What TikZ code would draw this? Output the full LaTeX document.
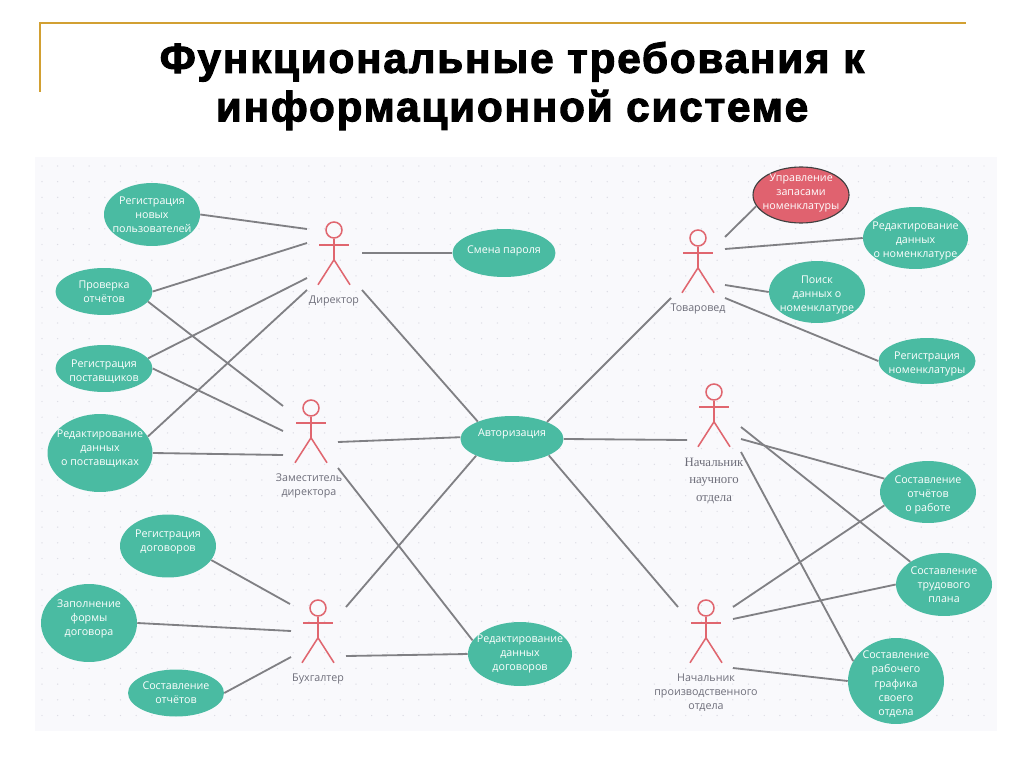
\documentclass[tikz,border=0pt]{standalone}
\usepackage{fontspec}
\setmainfont{Open Sans}
\newfontfamily\titlefont[FakeBold=2.5, LetterSpace=4.3]{Liberation Sans Bold}
\newfontfamily\serifcap{Liberation Serif}
\usetikzlibrary{shapes.geometric}
\definecolor{panelbg}{HTML}{F9F9FC}
\definecolor{griddot}{HTML}{DCDCE4}
\definecolor{casegreen}{HTML}{4ABBA2}
\definecolor{casered}{HTML}{E0626F}
\definecolor{actorred}{HTML}{E0666F}
\definecolor{linkgray}{HTML}{808084}
\definecolor{capgray}{HTML}{6E6E7A}
\definecolor{framegold}{HTML}{D2A032}
\tikzset{
    usecase/.style={ellipse, fill=casegreen, text=white, inner sep=-16pt, align=center,
        font=\fontsize{7.6}{10}\selectfont},
    usered/.style={usecase, fill=casered, draw=black!75, line width=0.8pt},
    link/.style={draw=linkgray, line width=1.3pt},
    actorhead/.style={circle, draw=actorred, line width=1.1pt, minimum size=16*0.711pt, inner sep=0pt},
    actorline/.style={draw=actorred, line width=1.1pt},
    actorcap/.style={text=capgray, align=center, font=\fontsize{7.6}{10}\selectfont},
}
\newcommand{\actorfig}[3]{
    \node[actorhead] (#1) at (#2, #3) {};
    \draw[actorline] (#1.south) -- ++(0, 21) coordinate (#1hip) -- ++(-16, 25);
    \draw[actorline] (#1hip) -- ++(16, 25);
    \draw[actorline] (#2-15, #3+15) -- (#2+15, #3+15);
}
% подвинуть текст в овале вверх или вниз
\newcommand{\liftup}[1]{\rule[-#1pt]{0pt}{#1pt}}
\newcommand{\dropdown}[1]{\rule{0pt}{#1pt}}
\begin{document}
\begin{tikzpicture}[x=0.025cm, y=-0.025cm]
    \useasboundingbox (0, 0) rectangle (1024, 767);

    % заголовок
    \draw[framegold, line width=1.3pt] (40, 92) -- (40, 23) -- (966, 23);
    \node[align=center, font=\titlefont\fontsize{30}{34.5}\selectfont] (title) at (512, 86)
        {Функциональные требования к\\информационной системе};

    % фон
    \fill[panelbg] (35, 157) rectangle (997, 731);
    \foreach \i in {0,...,60}
        \foreach \j in {0,...,35}
            \fill[griddot] ({42+\i*15.7}, {166+\j*15.7}) circle (0.5pt);

    % слева
    \node[usecase, minimum width=96*0.711pt, minimum height=63*0.711pt] (regNew) at (152, 214.5) {Регистрация\\новых\\пользователей};
    \node[usecase, minimum width=97*0.711pt, minimum height=47*0.711pt] (checkRep) at (104, 291.5) {Проверка\\отчётов};
    \node[usecase, minimum width=97*0.711pt, minimum height=47*0.711pt] (regSup) at (104, 368.5) {\dropdown{10}Регистрация\\поставщиков};
    \node[usecase, minimum width=105*0.711pt, minimum height=78*0.711pt] (editSup) at (100, 453) {Редактирование\\данных\\о поставщиках\liftup{7.7}};
    \node[usecase, minimum width=96*0.711pt, minimum height=63*0.711pt] (regDog) at (168, 546) {Регистрация\\договоров\liftup{7.7}};
    \node[usecase, minimum width=96*0.711pt, minimum height=78*0.711pt] (fillDog) at (89, 623) {Заполнение\\формы\\договора\liftup{7.7}};
    \node[usecase, minimum width=96*0.711pt, minimum height=47*0.711pt] (makeRep) at (176, 693) {Составление\\отчётов};

    % центр
    \node[usecase, minimum width=103*0.711pt, minimum height=48*0.711pt] (pass) at (504, 253) {Смена пароля\liftup{4.8}};
    \node[usecase, minimum width=103*0.711pt, minimum height=46*0.711pt] (auth) at (512, 439) {Авторизация\liftup{9.1}};
    \node[usecase, minimum width=104*0.711pt, minimum height=64*0.711pt] (editDog) at (520, 654) {Редактирование\\данных\\договоров};

    % справа
    \node[usered, minimum width=96*0.711pt, minimum height=56*0.711pt] (stock) at (801, 195) {Управление\\запасами\\номенклатуры\liftup{4.8}};
    \node[usecase, minimum width=105*0.711pt, minimum height=62*0.711pt] (editNom) at (915.5, 238) {\dropdown{10}Редактирование\\данных\\о номенклатуре};
    \node[usecase, minimum width=96*0.711pt, minimum height=62*0.711pt] (findNom) at (817, 292) {\dropdown{10}Поиск\\данных о\\номенклатуре};
    \node[usecase, minimum width=97*0.711pt, minimum height=46*0.711pt] (regNom) at (927, 361) {\dropdown{10}Регистрация\\номенклатуры};
    \node[usecase, minimum width=96*0.711pt, minimum height=62*0.711pt] (workRep) at (928, 492) {\dropdown{10}Составление\\отчётов\\о работе};
    \node[usecase, minimum width=96*0.711pt, minimum height=63*0.711pt] (labPlan) at (944, 584.5) {Составление\\трудового\\плана};
    \node[usecase, minimum width=96*0.711pt, minimum height=86*0.711pt] (schedule) at (896, 681) {\dropdown{10}Составление\\рабочего\\графика\\своего\\отдела};

    % актёры
    \actorfig{dir}{334}{230}
    \node[actorcap] (dirCap) at (334, 300.5) {Директор};
    \actorfig{zam}{311}{408}
    \node[actorcap] (zamCap) at (309, 486) {Заместитель\\директора};
    \actorfig{buh}{318}{608}
    \node[actorcap] (buhCap) at (318, 679) {Бухгалтер};
    \actorfig{tov}{698}{238}
    \node[actorcap] (tovCap) at (698, 309) {Товаровед};
    \actorfig{sci}{714}{392}
    \node[text=capgray, align=center, font=\serifcap\fontsize{9.1}{12.3}\selectfont] (sciCap) at (714, 481) {Начальник\\научного\\отдела};
    \actorfig{prod}{706}{608}
    \node[actorcap] (prodCap) at (706, 693) {Начальник\\производственного\\отдела};

    % свободные концы линий
    \coordinate (dirA) at (307, 229);
    \coordinate (dirB) at (307, 243);
    \coordinate (dirC) at (307, 278);
    \coordinate (dirD) at (307, 290);
    \coordinate (dirE) at (362, 253);
    \coordinate (dirF) at (362, 290);
    \coordinate (zamA) at (283, 406);
    \coordinate (zamB) at (283, 431);
    \coordinate (zamC) at (283, 455);
    \coordinate (zamD) at (338, 442);
    \coordinate (zamE) at (338, 468);
    \coordinate (buhA) at (290, 604);
    \coordinate (buhB) at (291, 631);
    \coordinate (buhC) at (291, 657);
    \coordinate (buhD) at (346, 607);
    \coordinate (buhE) at (346, 656);
    \coordinate (tovA) at (725, 237);
    \coordinate (tovB) at (725, 249);
    \coordinate (tovC) at (725, 285);
    \coordinate (tovD) at (725, 298);
    \coordinate (tovE) at (671, 298);
    \coordinate (sciA) at (687, 440);
    \coordinate (sciB) at (741, 439);
    \coordinate (sciC) at (741, 427);
    \coordinate (sciD) at (741, 452);
    \coordinate (prodA) at (678, 607);
    \coordinate (prodB) at (733, 607);
    \coordinate (prodC) at (733, 619);
    \coordinate (prodD) at (733, 668);

    % линии
    \draw[link] (regNew.0) -- (dirA);
    \draw[link] (checkRep.0) -- (dirB);
    \draw[link] (regSup.13) -- (dirC);
    \draw[link] (editSup.19) -- (dirD);
    \draw[link] (dirE) -- (pass.180);
    \draw[link] (dirF) -- (auth.153);
    \draw[link] (checkRep.-13) -- (zamA);
    \draw[link] (regSup.0) -- (zamB);
    \draw[link] (editSup.0) -- (zamC);
    \draw[link] (zamD) -- (auth.178);
    \draw[link] (zamE) -- (editDog.164);
    \draw[link] (regDog.-18) -- (buhA);
    \draw[link] (fillDog.0) -- (buhB);
    \draw[link] (makeRep.0) -- (buhC);
    \draw[link] (buhD) -- (auth.205);
    \draw[link] (buhE) -- (editDog.180);
    \draw[link] (tovA) -- (stock.194);
    \draw[link] (tovB) -- (editNom.180);
    \draw[link] (tovC) -- (findNom.180);
    \draw[link] (tovD) -- (regNom.180);
    \draw[link] (tovE) -- (auth.26);
    \draw[link] (auth.0) -- (sciA);
    \draw[link] (sciB) -- (workRep.163);
    \draw[link] (sciC) -- (labPlan.146);
    \draw[link] (sciD) -- (schedule.155);
    \draw[link] (auth.-24) -- (prodA);
    \draw[link] (prodB) -- (workRep.197);
    \draw[link] (prodC) -- (labPlan.180);
    \draw[link] (prodD) -- (schedule.180);
\end{tikzpicture}
\end{document}
